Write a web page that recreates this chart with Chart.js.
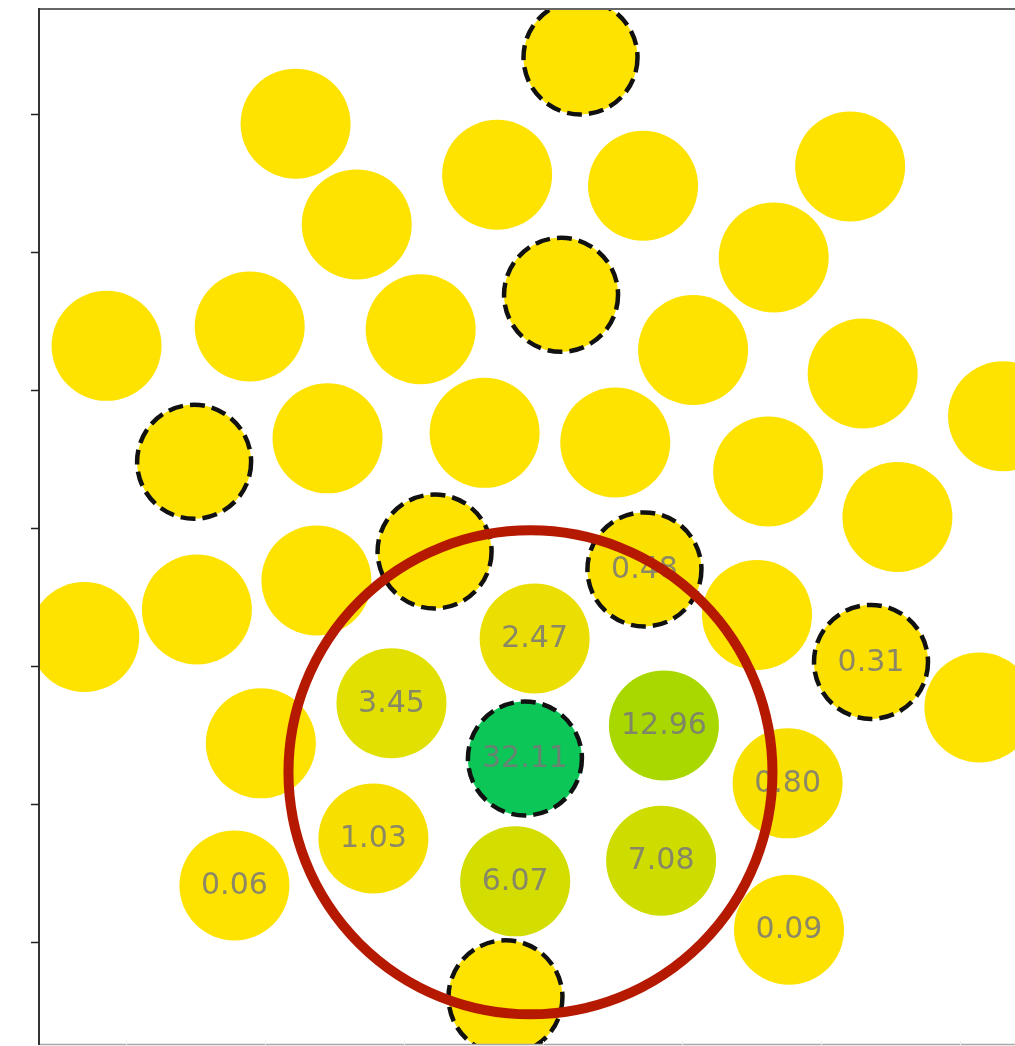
<!DOCTYPE html>
<html>
<head>
<meta charset="utf-8">
<script src="https://cdn.jsdelivr.net/npm/chart.js@4.4.0/dist/chart.umd.min.js"></script>
<style>
  html, body { margin: 0; padding: 0; background: #fff; }
  canvas { display: block; }
</style>
</head>
<body>
<canvas id="bubbleChart" width="1015" height="1046"></canvas>
<script>
// circle centres (axis units)
const pointX = [4.27, 2.22, 3.67, 4.72, 6.21, 2.66, 5.66, 4.13, 0.86, 1.89,
                3.12, 5.08, 6.30, 7.31, 1.49, 2.45, 3.58, 4.52, 5.62, 6.55,
                3.22, 4.73, 2.37, 1.51, 0.70, 3.94, 5.54, 6.36, 7.14, 2.91,
                4.87, 3.87, 1.97, 5.76, 2.78, 3.80, 4.85, 1.78, 5.77, 3.73];
const pointY = [7.41, 6.93, 6.56, 6.48, 6.62, 6.20, 5.96, 5.69, 5.32, 5.46,
                5.44, 5.29, 5.12, 4.81, 4.48, 4.65, 4.69, 4.62, 4.41, 4.08,
                3.83, 3.70, 3.62, 3.41, 3.21, 3.20, 3.37, 3.03, 2.70, 2.73,
                2.57, 2.33, 2.44, 2.15, 1.75, 1.44, 1.59, 1.41, 1.09, 0.60];
// printed value per circle (null = no label)
const pointValue = [null, null, null, null, null, null, null, null, null, null,
                    null, null, null, null, null, null, null, null, null, null,
                    null, 0.48, null, null, null, 2.47, null, 0.31, null, 3.45,
                    12.96, 32.11, null, 0.80, 1.03, 6.07, 7.08, 0.06, 0.09, null];
// circles drawn with a dashed outline
const pointFlagged = [true, false, false, false, false, false, false, true, false, false,
                      false, false, false, false, true, false, false, false, false, false,
                      true, true, false, false, false, false, false, true, false, false,
                      false, true, false, false, false, false, false, false, false, true];
const ringCenter = [3.91, 2.23];
const xTicks = [1, 2, 3, 4, 5, 6, 7];
const yTicks = [1, 2, 3, 4, 5, 6, 7];

// yellow -> green colour map
const colorStops = [
  [0, [254, 226, 0]], [1, [247, 224, 0]], [2.5, [234, 223, 0]], [3.5, [226, 224, 0]],
  [6, [212, 221, 0]], [7, [206, 220, 0]], [13, [169, 216, 0]], [32, [12, 198, 88]]
];
function colorFor(v) {
  if (v === null || v === undefined) v = 0;
  let c = colorStops[colorStops.length - 1][1];
  for (let i = 0; i < colorStops.length - 1; i++) {
    const a = colorStops[i], b = colorStops[i + 1];
    if (v <= b[0]) {
      const t = Math.max(0, (v - a[0]) / (b[0] - a[0]));
      c = a[1].map((ch, k) => Math.round(ch + (b[1][k] - ch) * t));
      break;
    }
  }
  return `rgb(${c[0]}, ${c[1]}, ${c[2]})`;
}

const plainIdx = [], dashedIdx = [];
pointX.forEach((x, i) => (pointFlagged[i] ? dashedIdx : plainIdx).push(i));

function pointsFor(idx) {
  return idx.map(i => ({ x: pointX[i], y: pointY[i], v: pointValue[i] }));
}

const dashPlugin = {
  id: 'dashAndLabels',
  beforeDatasetDraw(chart, args) {
    if (args.index === 1) chart.ctx.setLineDash([15, 7]);
  },
  afterDatasetDraw(chart, args) {
    const ctx = chart.ctx;
    if (args.index !== 1) return;
    ctx.setLineDash([]);
    // value labels, under the red ring
    const xs = chart.scales.x, ys = chart.scales.y;
    ctx.save();
    ctx.font = '30px "DejaVu Sans"';
    ctx.fillStyle = 'rgba(120, 120, 120, 0.85)';
    ctx.textAlign = 'center';
    ctx.textBaseline = 'middle';
    pointValue.forEach((v, i) => {
      if (v === null) return;
      ctx.fillText(v.toFixed(2), xs.getPixelForValue(pointX[i]), ys.getPixelForValue(pointY[i]) + 1);
    });
    ctx.restore();
  },
  afterDraw(chart) {
    const ctx = chart.ctx;
    const a = chart.chartArea;
    const xs = chart.scales.x, ys = chart.scales.y;
    ctx.save();
    // frame
    ctx.strokeStyle = '#a8a8a8';
    ctx.lineWidth = 1.5;
    ctx.beginPath();
    ctx.moveTo(a.left, a.bottom - 0.5);
    ctx.lineTo(a.right, a.bottom - 0.5);
    ctx.stroke();
    ctx.strokeStyle = '#666';
    ctx.lineWidth = 2;
    ctx.beginPath();
    ctx.moveTo(a.left, a.top);
    ctx.lineTo(a.right, a.top);
    ctx.stroke();
    ctx.strokeStyle = '#333';
    ctx.beginPath();
    ctx.moveTo(a.left, a.top - 1);
    ctx.lineTo(a.left, a.bottom);
    ctx.stroke();
    // tick marks
    ctx.lineWidth = 1.5;
    ctx.strokeStyle = '#222';
    yTicks.forEach(t => {
      const py = Math.round(ys.getPixelForValue(t)) + 0.5;
      ctx.beginPath();
      ctx.moveTo(a.left - 8, py);
      ctx.lineTo(a.left, py);
      ctx.stroke();
    });
    ctx.strokeStyle = '#ececec';
    ctx.lineWidth = 1;
    xTicks.forEach(t => {
      const px = Math.round(xs.getPixelForValue(t)) + 0.5;
      ctx.beginPath();
      ctx.moveTo(px, a.bottom - 4);
      ctx.lineTo(px, a.bottom);
      ctx.stroke();
    });
    ctx.restore();
  }
};

const ctx = document.getElementById('bubbleChart').getContext('2d');
const bubbleChart = new Chart(ctx, {
  type: 'bubble',
  data: {
    datasets: [
      {
        // red ring, drawn on top
        data: [{ x: ringCenter[0], y: ringCenter[1] }],
        radius: 242,
        backgroundColor: 'rgba(0,0,0,0)',
        borderColor: '#b51a00',
        borderWidth: 10,
        clip: false
      },
      {
        data: pointsFor(dashedIdx),
        radius: 57,
        backgroundColor: c => colorFor(c.raw ? c.raw.v : null),
        borderColor: '#111',
        borderWidth: 4.5,
        clip: 0
      },
      {
        data: pointsFor(plainIdx),
        radius: 55,
        backgroundColor: c => colorFor(c.raw ? c.raw.v : null),
        borderWidth: 0,
        clip: 0
      }
    ]
  },
  options: {
    responsive: false,
    animation: false,
    events: [],
    layout: { autoPadding: false, padding: { left: 39, top: 9, right: 0, bottom: 1 } },
    plugins: {
      legend: { display: false },
      tooltip: { enabled: false }
    },
    scales: {
      x: { type: 'linear', display: false, min: 0.374, max: 7.396 },
      y: { type: 'linear', display: false, min: 0.254, max: 7.761 }
    }
  },
  plugins: [dashPlugin]
});
</script>
</body>
</html>
